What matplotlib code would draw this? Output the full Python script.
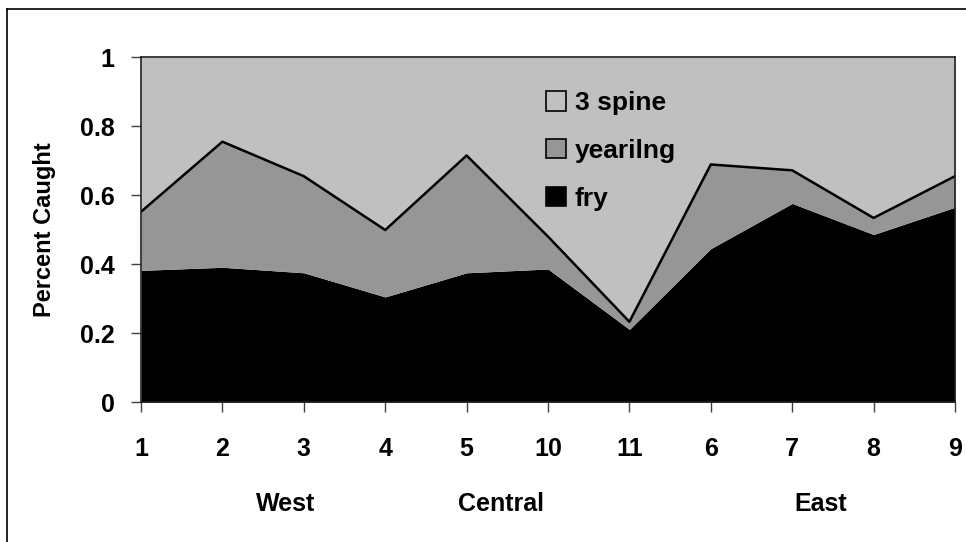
import numpy as np
import matplotlib
matplotlib.use('Agg')
import matplotlib.pyplot as plt
from matplotlib.patches import Patch
from matplotlib.lines import Line2D

plt.rcParams['font.family'] = ['Liberation Sans', 'DejaVu Sans']
plt.rcParams['font.weight'] = 'bold'

# Sites in plotted order
sites = ['1', '2', '3', '4', '5', '10', '11', '6', '7', '8', '9']
fry = [0.382, 0.391, 0.375, 0.305, 0.375, 0.386, 0.211, 0.445, 0.576, 0.486, 0.565]
yearling = [0.170, 0.364, 0.280, 0.194, 0.340, 0.094, 0.022, 0.244, 0.096, 0.048, 0.090]
three_spine = [0.448, 0.245, 0.345, 0.501, 0.285, 0.520, 0.767, 0.311, 0.328, 0.466, 0.345]
regions = ['West', 'Central', 'East']
region_pos = [1.77, 4.42, 8.35]

col_fry = '#000000'
col_year = '#969696'
col_spine = '#C0C0C0'

fig = plt.figure(figsize=(9.66, 5.42), dpi=100)
ax = fig.add_axes([0.146, 0.258, 0.8426, 0.6365])

x = np.arange(len(sites))
fry_a = np.array(fry)
tot = fry_a + np.array(yearling)
top = tot + np.array(three_spine)

ax.fill_between(x, 0, fry_a, color=col_fry, lw=0)
ax.fill_between(x, fry_a, tot, color=col_year, lw=0)
ax.fill_between(x, tot, top, color=col_spine, lw=0)
ax.plot(x, tot, color='black', lw=1.8)

ax.set_xlim(0, len(sites) - 1)
ax.set_ylim(0, 1)
ax.set_xticks(x)
ax.set_xticklabels(sites, fontsize=18, fontweight='bold')
ax.set_yticks([0, 0.2, 0.4, 0.6, 0.8, 1.0])
ax.set_yticklabels(['0', '0.2', '0.4', '0.6', '0.8', '1'], fontsize=18, fontweight='bold')
ax.tick_params(axis='x', direction='out', length=7, width=1, color='#404040', pad=18)
ax.tick_params(axis='y', direction='out', length=7, width=1, color='#404040', pad=12)
for s in ax.spines.values():
    s.set_color('#202020')
    s.set_linewidth(1.2)

ax.set_ylabel('Percent Caught', fontsize=17, fontweight='bold', labelpad=17)

for name, pos in zip(regions, region_pos):
    ax.text(pos, -0.294, name, transform=ax.get_xaxis_transform(), ha='center', va='center',
            fontsize=18, fontweight='bold')

handles = [Patch(facecolor=col_spine, edgecolor='black', lw=1.2),
           Patch(facecolor=col_year, edgecolor='black', lw=1.2),
           Patch(facecolor=col_fry, edgecolor='black', lw=1.2)]
fig.legend(handles, ['3 spine', 'yearilng', 'fry'], loc='upper left',
           bbox_to_anchor=(0.565, 0.832), frameon=False,
           handlelength=0.75, handleheight=0.75, handletextpad=0.35, labelspacing=0.9,
           borderpad=0, borderaxespad=0,
           prop={'weight': 'bold', 'size': 19})

# outer chart frame
fig.add_artist(Line2D([6.5 / 966, 1.0], [1 - 9 / 542, 1 - 9 / 542], color='black', lw=1.2))
fig.add_artist(Line2D([6.5 / 966, 6.5 / 966], [0.0, 1 - 9 / 542], color='black', lw=1.2))

fig.savefig('out.png', dpi=100)
